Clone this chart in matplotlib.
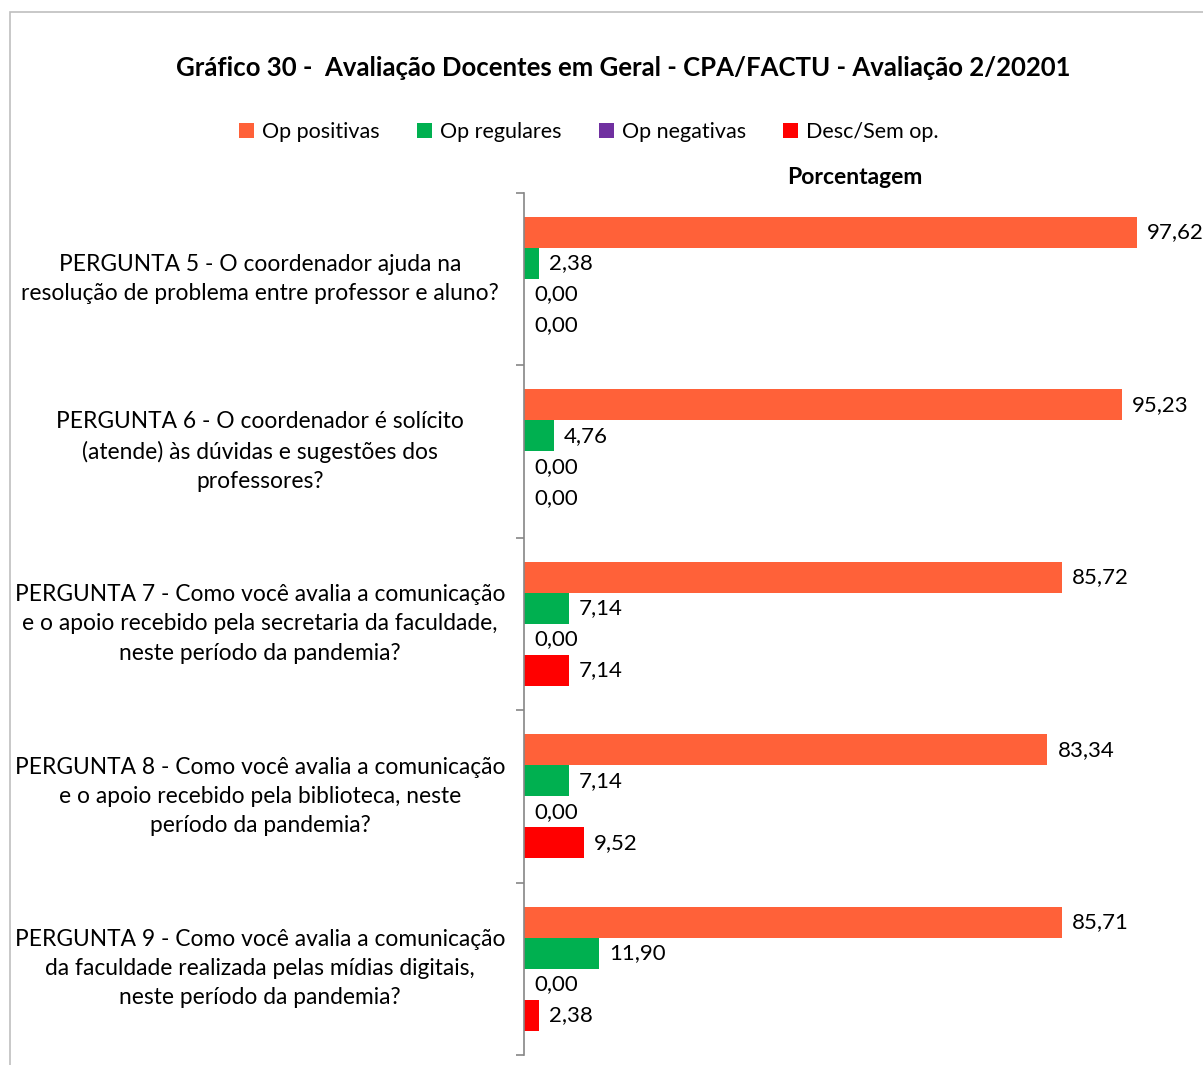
import matplotlib
matplotlib.use("Agg")
import matplotlib.pyplot as plt
from matplotlib.patches import Rectangle, Patch
import matplotlib.transforms as mtransforms

plt.rcParams['font.family'] = ['Lato', 'DejaVu Sans']

categories = [
    "PERGUNTA 5 - O coordenador ajuda na\nresolução de problema entre professor e aluno?",
    "PERGUNTA 6 - O coordenador é solícito\n(atende) às dúvidas e sugestões dos\nprofessores?",
    "PERGUNTA 7 - Como você avalia a comunicação\ne o apoio recebido pela secretaria da faculdade,\nneste período da pandemia?",
    "PERGUNTA 8 - Como você avalia a comunicação\ne o apoio recebido pela biblioteca, neste\nperíodo da pandemia?",
    "PERGUNTA 9 - Como você avalia a comunicação\nda faculdade realizada pelas mídias digitais,\nneste período da pandemia?",
]
series_names = ["Op positivas", "Op regulares", "Op negativas", "Desc/Sem op."]
op_positivas = [97.62, 95.23, 85.72, 83.34, 85.71]
op_regulares = [2.38, 4.76, 7.14, 7.14, 11.90]
op_negativas = [0.00, 0.00, 0.00, 0.00, 0.00]
desc_sem_op = [0.00, 0.00, 7.14, 9.52, 2.38]
series = [op_positivas, op_regulares, op_negativas, desc_sem_op]
colors = ["#FF6139", "#00B050", "#7030A0", "#FF0000"]

title = "Gráfico 30 -  Avaliação Docentes em Geral - CPA/FACTU - Avaliação 2/20201"

W, H = 1203, 1065
fig = plt.figure(figsize=(W / 100, H / 100), dpi=100)

# outer frame
fig.patches.append(Rectangle((10 / W, -0.1), 1.2, 1 - 12 / H + 0.1, transform=fig.transFigure,
                             fill=False, edgecolor="#BFBFBF", linewidth=1.2))

ax = fig.add_axes([524 / W, 1 - 1055 / H, (W - 524) / W, (1055 - 193) / H])
ax.set_xlim(0, (W - 524) / 6.28)
ax.set_ylim(5, 0)

bar_h = 0.18
offset = 0.139
fmt = lambda v: f"{v:.2f}".replace(".", ",")
for j, (vals, col) in enumerate(zip(series, colors)):
    ys = [i + offset + bar_h * (j + 0.5) for i in range(len(categories))]
    ax.barh(ys, vals, height=bar_h, color=col, edgecolor="none")
    for y, v in zip(ys, vals):
        ax.annotate(fmt(v), (v, y), xytext=(7.2, 0), textcoords="offset points",
                    ha="left", va="center", fontsize=16, color="#000000")

for s in ["top", "right", "bottom"]:
    ax.spines[s].set_visible(False)
ax.spines["left"].set_color("#868686")
ax.spines["left"].set_linewidth(1.2)
ax.set_yticks(range(6))
ax.set_yticklabels([])
ax.tick_params(axis="y", length=6, width=1.2, color="#868686", direction="out")
ax.set_xticks([])

trans = mtransforms.blended_transform_factory(fig.transFigure, ax.transData)
for i, lab in enumerate(categories):
    ax.text(260 / W, i + 0.5, lab, transform=trans, ha="center", va="center",
            multialignment="center", fontsize=16.4, linespacing=1.48, color="#000000")

fig.text(623 / W, 1 - 68 / H, title, ha="center", va="center", fontsize=18.5, fontweight="bold")
fig.text(855 / W, 1 - 177 / H, "Porcentagem", ha="center", va="center", fontsize=16.5, fontweight="bold")

handles = [Patch(facecolor=c, edgecolor="none") for c in colors]
fig.legend(handles, series_names, loc="center", bbox_to_anchor=(589 / W, 1 - 132 / H),
           ncol=4, frameon=False, fontsize=15.5, handlelength=0.7, handleheight=0.7,
           handletextpad=0.35, columnspacing=1.75)

fig.savefig("out.png", dpi=100)
